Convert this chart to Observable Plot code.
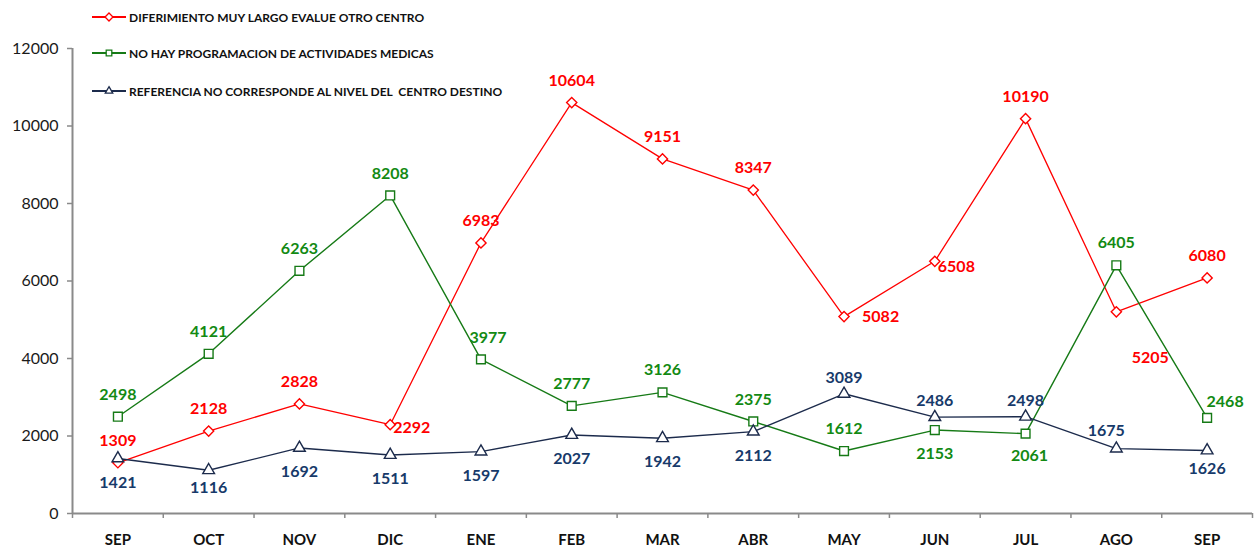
<!DOCTYPE html>
<html>
<head>
<meta charset="utf-8">
<script src="https://cdn.jsdelivr.net/npm/d3@7"></script>
<script src="https://cdn.jsdelivr.net/npm/@observablehq/plot@0.6"></script>
<style>
  html, body { margin: 0; padding: 0; background: #fff; }
  #wrap { position: relative; width: 1256px; height: 552px; font-family: Lato, "Open Sans", sans-serif; }
  #legend { position: absolute; left: 0; top: 0; }
  .item { position: absolute; left: 92px; height: 16px; display: flex; align-items: center; white-space: pre;
          font-size: 12px; font-weight: bold; color: #111; }
  .item svg { margin-right: 1px; }
</style>
</head>
<body>
<div id="wrap"><div id="legend"></div></div>
<script>
const months = ["SEP","OCT","NOV","DIC","ENE","FEB","MAR","ABR","MAY","JUN","JUL","AGO","SEP"];
const seriesNames = [
  "DIFERIMIENTO MUY LARGO EVALUE OTRO CENTRO",
  "NO HAY PROGRAMACION DE ACTIVIDADES MEDICAS",
  "REFERENCIA NO CORRESPONDE AL NIVEL DEL  CENTRO DESTINO"
];
const diferimiento = [1309, 2128, 2828, 2292, 6983, 10604, 9151, 8347, 5082, 6508, 10190, 5205, 6080];
const programacion = [2498, 4121, 6263, 8208, 3977, 2777, 3126, 2375, 1612, 2153, 2061, 6405, 2468];
const referencia   = [1421, 1116, 1692, 1511, 1597, 2027, 1942, 2112, 3089, 2486, 2498, 1675, 1626];
const yTicks = [0, 2000, 4000, 6000, 8000, 10000, 12000];

// label placement codes per point
const diferimientoLabelPos = ["N","N","N","E","N","N","N","N","E2","E3","N","SE","N"];
const programacionLabelPos = ["N","N","N","N","NE","N","N","N","N","S","S2","N","NE2"];
const referenciaLabelPos   = ["S","S3","S","S","S","S","S","S","N2","N2","N2","NW","S3"];

const placement = {
  N:   {dx: 0,   dy: -22, textAnchor: "middle"},
  N2:  {dx: 0,   dy: -16, textAnchor: "middle"},
  S:   {dx: 0,   dy: 24,  textAnchor: "middle"},
  S2:  {dx: 4,   dy: 22,  textAnchor: "middle"},
  S3:  {dx: 0,   dy: 18,  textAnchor: "middle"},
  E:   {dx: 3,   dy: 3,   textAnchor: "start"},
  E2:  {dx: 18,  dy: 0,   textAnchor: "start"},
  E3:  {dx: 3,   dy: 6,   textAnchor: "start"},
  NE:  {dx: 7,   dy: -22, textAnchor: "middle"},
  NE2: {dx: 18,  dy: -16, textAnchor: "middle"},
  SE:  {dx: 34,  dy: 46,  textAnchor: "middle"},
  NW:  {dx: -10, dy: -18, textAnchor: "middle"}
};

const series = [
  {name: seriesNames[0], values: diferimiento, pos: diferimientoLabelPos, line: "#FF0000", label: "#FF0000", symbol: "diamond2", r: 4.6, sw: 1.3},
  {name: seriesNames[1], values: programacion, pos: programacionLabelPos, line: "#167A16", label: "#138A13", symbol: "square2", r: 5.6, sw: 1.4},
  {name: seriesNames[2], values: referencia, pos: referenciaLabelPos, line: "#1C2B4C", label: "#173A6A", symbol: "triangle2", r: 5.6, sw: 1.4}
];

const marks = [
  Plot.ruleY([0], {stroke: "#8a8a8a", strokeWidth: 2}),
  Plot.ruleX([-0.5], {stroke: "#8a8a8a", strokeWidth: 2}),
  Plot.axisY({ticks: yTicks, tickSize: 5, tickPadding: 9, tickFormat: d3.format("d"), fontSize: 16, stroke: "#8a8a8a", fill: "#1a1a1a", strokeWidth: 1.5, label: null}),
  Plot.axisX({ticks: d3.range(-0.5, 13, 1), tickSize: 5, tickFormat: () => "", stroke: "#8a8a8a", strokeWidth: 1.5, label: null}),
  Plot.axisX({ticks: d3.range(months.length), tickSize: 0, tickPadding: 21, tickFormat: i => months[i], fontSize: 15, fontWeight: "bold", fill: "#111", label: null})
];

for (const s of series) {
  const rows = s.values.map((v, i) => ({i, v, pos: s.pos[i]}));
  marks.push(Plot.line(rows, {x: "i", y: "v", stroke: s.line, strokeWidth: s.sw}));
  marks.push(Plot.dot(rows, {x: "i", y: "v", symbol: () => s.symbol, r: s.r, stroke: s.line, fill: "white", strokeWidth: 1.4}));
}
for (const s of series) {
  const rows = s.values.map((v, i) => ({i, v, pos: s.pos[i]}));
  for (const [code, p] of Object.entries(placement)) {
    const sub = rows.filter(r => r.pos === code);
    if (!sub.length) continue;
    marks.push(Plot.text(sub, {x: "i", y: "v", text: d => String(d.v), dx: p.dx, dy: p.dy, textAnchor: p.textAnchor,
      fill: s.label, fontSize: 16, fontWeight: "bold"}));
  }
}

const chart = Plot.plot({
  width: 1256, height: 552,
  marginTop: 48, marginBottom: 39, marginLeft: 72, marginRight: 4,
  style: {fontFamily: "Lato, 'Open Sans', sans-serif", background: "white"},
  x: {type: "linear", domain: [-0.5, 12.5], axis: null},
  y: {domain: [0, 12000], axis: null},
  symbol: {type: "identity"},
  marks
});
document.getElementById("wrap").insertBefore(chart, document.getElementById("legend"));

// legend
const legend = document.getElementById("legend");
const legendTops = [9, 45, 83];
series.forEach((s, k) => {
  const div = document.createElement("div");
  div.className = "item";
  div.style.top = legendTops[k] + "px";
  const svg = d3.create("svg").attr("width", 36).attr("height", 16);
  svg.append("line").attr("x1", 0).attr("x2", 34).attr("y1", 8).attr("y2", 8).attr("stroke", s.line).attr("stroke-width", 2);
  const symMap = {diamond2: d3.symbolDiamond2, square2: d3.symbolSquare2, triangle2: d3.symbolTriangle2};
  svg.append("path").attr("d", d3.symbol(symMap[s.symbol], 40)()).attr("transform", "translate(17,8)")
    .attr("fill", "white").attr("stroke", s.line).attr("stroke-width", 1.3);
  div.appendChild(svg.node());
  const span = document.createElement("span");
  span.textContent = s.name;
  div.appendChild(span);
  legend.appendChild(div);
});
</script>
</body>
</html>
